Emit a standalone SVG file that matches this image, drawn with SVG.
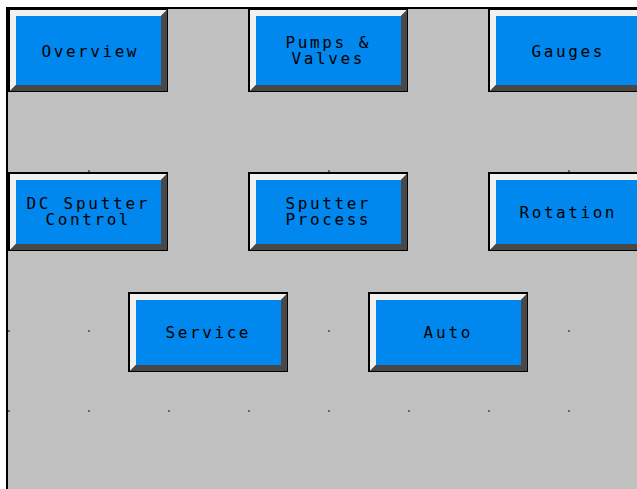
<svg xmlns="http://www.w3.org/2000/svg" width="637" height="489" viewBox="0 0 637 489">
<style>
.frame{fill:#000}
.lite{fill:#f0f0f0}
.dark{fill:#484848}
.face{fill:#0088ee}
.lbl{font-family:"DejaVu Sans Mono","Liberation Mono",monospace;font-size:16px;fill:#000;text-anchor:middle}
.dot{fill:#666}
</style>
<rect x="0" y="0" width="637" height="489" fill="#fff"/>
<rect x="6" y="7" width="631" height="482" fill="#000"/>
<rect x="8" y="9" width="629" height="480" fill="#c0c0c0"/>
<g id="grid">
<rect class="dot" x="88" y="170" width="2" height="2"/>
<rect class="dot" x="328" y="170" width="2" height="2"/>
<rect class="dot" x="568" y="170" width="2" height="2"/>
<rect class="dot" x="8" y="330" width="2" height="2"/>
<rect class="dot" x="88" y="330" width="2" height="2"/>
<rect class="dot" x="328" y="330" width="2" height="2"/>
<rect class="dot" x="568" y="330" width="2" height="2"/>
<rect class="dot" x="8" y="410" width="2" height="2"/>
<rect class="dot" x="88" y="410" width="2" height="2"/>
<rect class="dot" x="168" y="410" width="2" height="2"/>
<rect class="dot" x="248" y="410" width="2" height="2"/>
<rect class="dot" x="328" y="410" width="2" height="2"/>
<rect class="dot" x="408" y="410" width="2" height="2"/>
<rect class="dot" x="488" y="410" width="2" height="2"/>
<rect class="dot" x="568" y="410" width="2" height="2"/>
</g>
<g id="connectors"></g>
<g id="overview">
<rect class="frame" x="8" y="8" width="160" height="84"/>
<polygon class="lite" points="10,10 167,10 161,16 16,16 16,85 10,91"/>
<polygon class="dark" points="167,10 167,91 10,91 16,85 161,85 161,16"/>
<rect class="face" x="16" y="16" width="145" height="69"/>
<text class="lbl" x="89" y="57" textLength="95" lengthAdjust="spacing">Overview</text>
</g>
<g id="pumps">
<rect class="frame" x="248" y="8" width="160" height="84"/>
<polygon class="lite" points="250,10 407,10 401,16 256,16 256,85 250,91"/>
<polygon class="dark" points="407,10 407,91 250,91 256,85 401,85 401,16"/>
<rect class="face" x="256" y="16" width="145" height="69"/>
<text class="lbl" x="327" y="48" textLength="83" lengthAdjust="spacing">Pumps &amp;</text>
<text class="lbl" x="327" y="64" textLength="71" lengthAdjust="spacing">Valves</text>
</g>
<g id="gauges">
<rect class="frame" x="488" y="8" width="160" height="84"/>
<polygon class="lite" points="490,10 647,10 641,16 496,16 496,85 490,91"/>
<polygon class="dark" points="647,10 647,91 490,91 496,85 641,85 641,16"/>
<rect class="face" x="496" y="16" width="145" height="69"/>
<text class="lbl" x="567" y="57" textLength="71" lengthAdjust="spacing">Gauges</text>
</g>
<g id="dcsputter">
<rect class="frame" x="8" y="172" width="160" height="79"/>
<polygon class="lite" points="10,174 167,174 161,180 16,180 16,244 10,250"/>
<polygon class="dark" points="167,174 167,250 10,250 16,244 161,244 161,180"/>
<rect class="face" x="16" y="180" width="145" height="64"/>
<text class="lbl" x="87" y="209" textLength="121" lengthAdjust="spacing">DC Sputter</text>
<text class="lbl" x="87" y="225" textLength="83" lengthAdjust="spacing">Control</text>
</g>
<g id="sputterprocess">
<rect class="frame" x="248" y="172" width="160" height="79"/>
<polygon class="lite" points="250,174 407,174 401,180 256,180 256,244 250,250"/>
<polygon class="dark" points="407,174 407,250 250,250 256,244 401,244 401,180"/>
<rect class="face" x="256" y="180" width="145" height="64"/>
<text class="lbl" x="327" y="209" textLength="83" lengthAdjust="spacing">Sputter</text>
<text class="lbl" x="327" y="225" textLength="83" lengthAdjust="spacing">Process</text>
</g>
<g id="rotation">
<rect class="frame" x="488" y="172" width="160" height="79"/>
<polygon class="lite" points="490,174 647,174 641,180 496,180 496,244 490,250"/>
<polygon class="dark" points="647,174 647,250 490,250 496,244 641,244 641,180"/>
<rect class="face" x="496" y="180" width="145" height="64"/>
<text class="lbl" x="567" y="218" textLength="95" lengthAdjust="spacing">Rotation</text>
</g>
<g id="service">
<rect class="frame" x="128" y="292" width="160" height="80"/>
<polygon class="lite" points="130,294 287,294 281,300 136,300 136,365 130,371"/>
<polygon class="dark" points="287,294 287,371 130,371 136,365 281,365 281,300"/>
<rect class="face" x="136" y="300" width="145" height="65"/>
<text class="lbl" x="207" y="338" textLength="83" lengthAdjust="spacing">Service</text>
</g>
<g id="auto">
<rect class="frame" x="368" y="292" width="160" height="80"/>
<polygon class="lite" points="370,294 527,294 521,300 376,300 376,365 370,371"/>
<polygon class="dark" points="527,294 527,371 370,371 376,365 521,365 521,300"/>
<rect class="face" x="376" y="300" width="145" height="65"/>
<text class="lbl" x="447" y="338" textLength="47" lengthAdjust="spacing">Auto</text>
</g>
</svg>
